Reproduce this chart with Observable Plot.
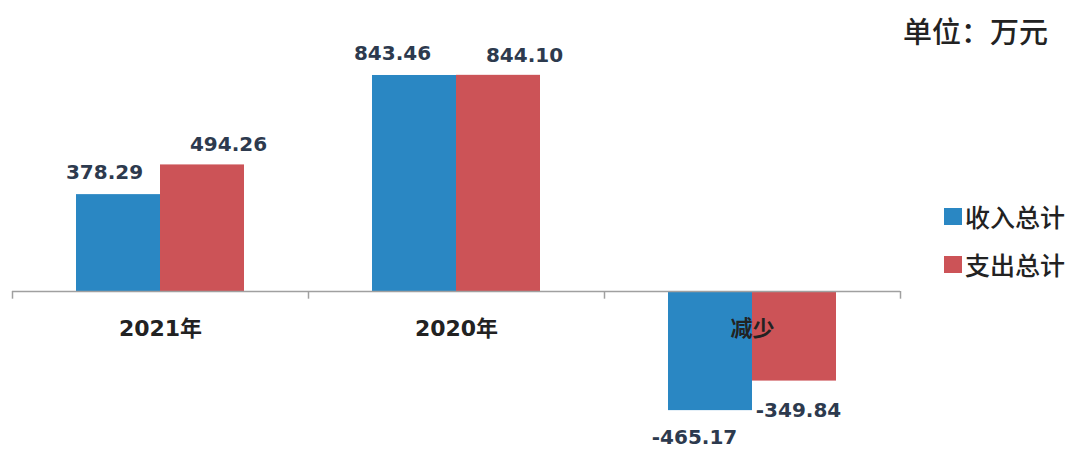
<!DOCTYPE html>
<html>
<head>
<meta charset="utf-8">
<script src="https://cdn.jsdelivr.net/npm/d3@7"></script>
<script src="https://cdn.jsdelivr.net/npm/@observablehq/plot@0.6"></script>
<style>
  html, body { margin: 0; padding: 0; background: #fff; }
  #wrap { position: relative; width: 1076px; height: 453px; overflow: hidden; }
  #chart { position: absolute; left: 0; top: 0; }
  .unit { position: absolute; left: 903px; top: 9px; font: 500 29px "Noto Sans CJK SC", sans-serif; color: #222; }
  .legend { position: absolute; left: 944px; font: 500 25px "Noto Sans CJK SC", sans-serif; color: #222; display: flex; align-items: center; }
  .legend span.sw { display: inline-block; width: 18px; height: 17px; margin-right: 3px; }
</style>
</head>
<body>
<div id="wrap">
  <div id="chart"></div>
  <div class="unit">单位：万元</div>
  <div class="legend" style="top:198px"><span class="sw" style="background:#2a87c3"></span>收入总计</div>
  <div class="legend" style="top:246px"><span class="sw" style="background:#cc5357"></span>支出总计</div>
</div>
<script>
const categories = ["2021年", "2020年", "减少"];
const income = [378.29, 843.46, -465.17];
const expense = [494.26, 844.10, -349.84];
const seriesNames = ["收入总计", "支出总计"];
const colors = ["#2a87c3", "#cc5357"];

const incomeData = categories.map((c, i) => ({cat: c, value: income[i], series: seriesNames[0]}));
const expenseData = categories.map((c, i) => ({cat: c, value: expense[i], series: seriesNames[1]}));

const labelFont = {fontFamily: "DejaVu Sans, sans-serif", fontSize: 20, fontWeight: "bold", fill: "#2d3a4e"};

const chart = Plot.plot({
  width: 1076,
  height: 453,
  marginLeft: 12,
  marginRight: 176,
  marginTop: 0,
  marginBottom: 0,
  x: {domain: categories, padding: 0, axis: null},
  y: {domain: [-632.6, 1136.3], axis: null},
  style: {background: "transparent"},
  marks: [
    Plot.barY(incomeData, {x: "cat", y: "value", fill: colors[0], insetLeft: 64, insetRight: 148}),
    Plot.barY(expenseData, {x: "cat", y: "value", fill: colors[1], insetLeft: 148, insetRight: 64}),
    Plot.ruleY([0], {stroke: "#a0a0a0", strokeWidth: 1.5}),
    Plot.ruleX(categories, {x: d => d, dx: -148, y1: 0, y2: -30, stroke: "#a0a0a0", strokeWidth: 1.5}),
    Plot.ruleX(categories.slice(-1), {x: d => d, dx: 148, y1: 0, y2: -30, stroke: "#a0a0a0", strokeWidth: 1.5}),
    Plot.text(categories, {x: d => d, y: () => 0, dy: 37, text: d => d, fontSize: 22, fontFamily: "DejaVu Sans, Noto Sans CJK SC, sans-serif", fontWeight: "bold", fill: "#222"}),
    // value labels
    Plot.text(incomeData.filter(d => d.value >= 0 && d.cat === categories[0]), {x: "cat", y: "value", text: d => d.value.toFixed(2), dx: -56, dy: -22, ...labelFont}),
    Plot.text(incomeData.filter(d => d.value >= 0 && d.cat !== categories[0]), {x: "cat", y: "value", text: d => d.value.toFixed(2), dx: -64, dy: -22, ...labelFont}),
    Plot.text(expenseData.filter(d => d.value >= 0), {x: "cat", y: "value", text: d => d.value.toFixed(2), dx: 68, dy: -20, ...labelFont}),
    Plot.text(incomeData.filter(d => d.value < 0), {x: "cat", y: "value", text: d => d.value.toFixed(2), dx: -58, dy: 27, ...labelFont}),
    Plot.text(expenseData.filter(d => d.value < 0), {x: "cat", y: "value", text: d => d.value.toFixed(2), dx: 46, dy: 30, ...labelFont})
  ]
});
document.getElementById("chart").appendChild(chart);
</script>
</body>
</html>
